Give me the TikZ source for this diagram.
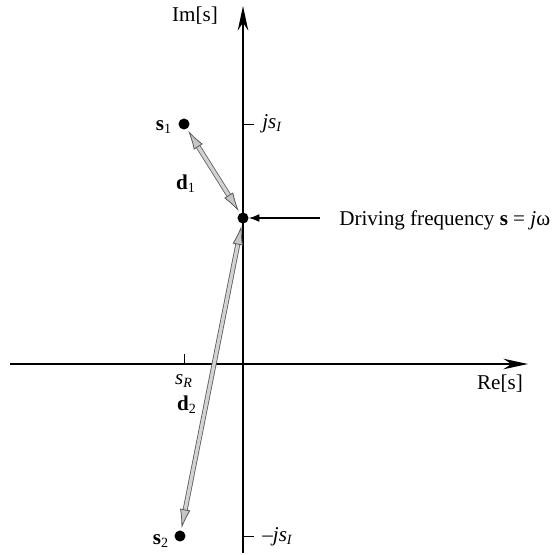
\documentclass[tikz,border=0pt]{standalone}
\usepackage{fontspec}
\setmainfont{Liberation Serif}
\usepackage{tikz}
\usetikzlibrary{arrows.meta,calc}
\tikzstyle{axis} = [line width=1pt, -{Stealth[length=14pt,width=6pt]}]
\tikzstyle{pt} = [circle, fill=black, inner sep=0pt, minimum size=6.3pt]
\tikzstyle{lbl} = [inner sep=0pt, font=\fontsize{12}{14}\selectfont]
\tikzstyle{tick} = [line width=0.5pt]
\tikzstyle{vec} = [draw=gray!70!black, line width=0.45pt, double=gray!35, double distance=1.9pt,
  {Latex[length=11pt,width=6pt,fill=gray!45]}-{Latex[length=11pt,width=6pt,fill=gray!45]}, shorten <=1pt, shorten >=1pt]
\tikzstyle{pointer} = [line width=0.6pt, -{Latex[length=6pt,width=4.5pt]}]

\begin{document}
\begin{tikzpicture}[x=0.02cm, y=-0.02cm]
      \useasboundingbox (0,0) rectangle (554,555);
      % axes
      \coordinate (xl) at (10,364);
      \coordinate (xr) at (528,364);
      \coordinate (yb) at (243,553);
      \coordinate (yt) at (243,6);
      \draw [axis](xl)--(xr);
      \draw [axis](yb)--(yt);
      \node (re)[lbl] at (500,384) {Re[s]};
      \node (im)[lbl] at (195,16) {Im[s]};
      % ticks
      \coordinate (tsi) at (243,124);
      \coordinate (tmsi) at (243,536);
      \coordinate (tsr) at (184,364);
      \draw [tick](tsi)--++(11,0);
      \draw [tick](tmsi)--++(11,0);
      \draw [tick](tsr)--++(0,-10);
      \node (jsi)[lbl, anchor=west] at (262,124) {\textit{js}\textsubscript{\textit{I}}};
      \node (mjsi)[lbl, anchor=west] at (262,537) {--\textit{js}\textsubscript{\textit{I}}};
      \node (sr)[lbl] at (184,381) {\textit{s}\textsubscript{\textit{R}}};
      % poles and driving point
      \node (s1)[pt] at (184,124) {};
      \node (drive)[pt] at (243,218) {};
      \node (s2)[pt] at (180,536) {};
      \node (s1lbl)[lbl] at (164,127) {\textbf{s}\textsubscript{1}};
      \node (s2lbl)[lbl] at (161,541) {\textbf{s}\textsubscript{2}};
      \node (d1lbl)[lbl] at (186,184) {\textbf{d}\textsubscript{1}};
      \node (d2lbl)[lbl] at (187,405) {\textbf{d}\textsubscript{2}};
      \node (drv)[lbl, anchor=west] at (339,220) {Driving frequency \textbf{s} = \textit{j}ω};
      \coordinate (drvtail) at (320,218);
      \draw [vec](s1)--(drive);
      \draw [vec](drive)--(s2);
      \draw [pointer](drvtail)--(drive);
\end{tikzpicture}
\end{document}
